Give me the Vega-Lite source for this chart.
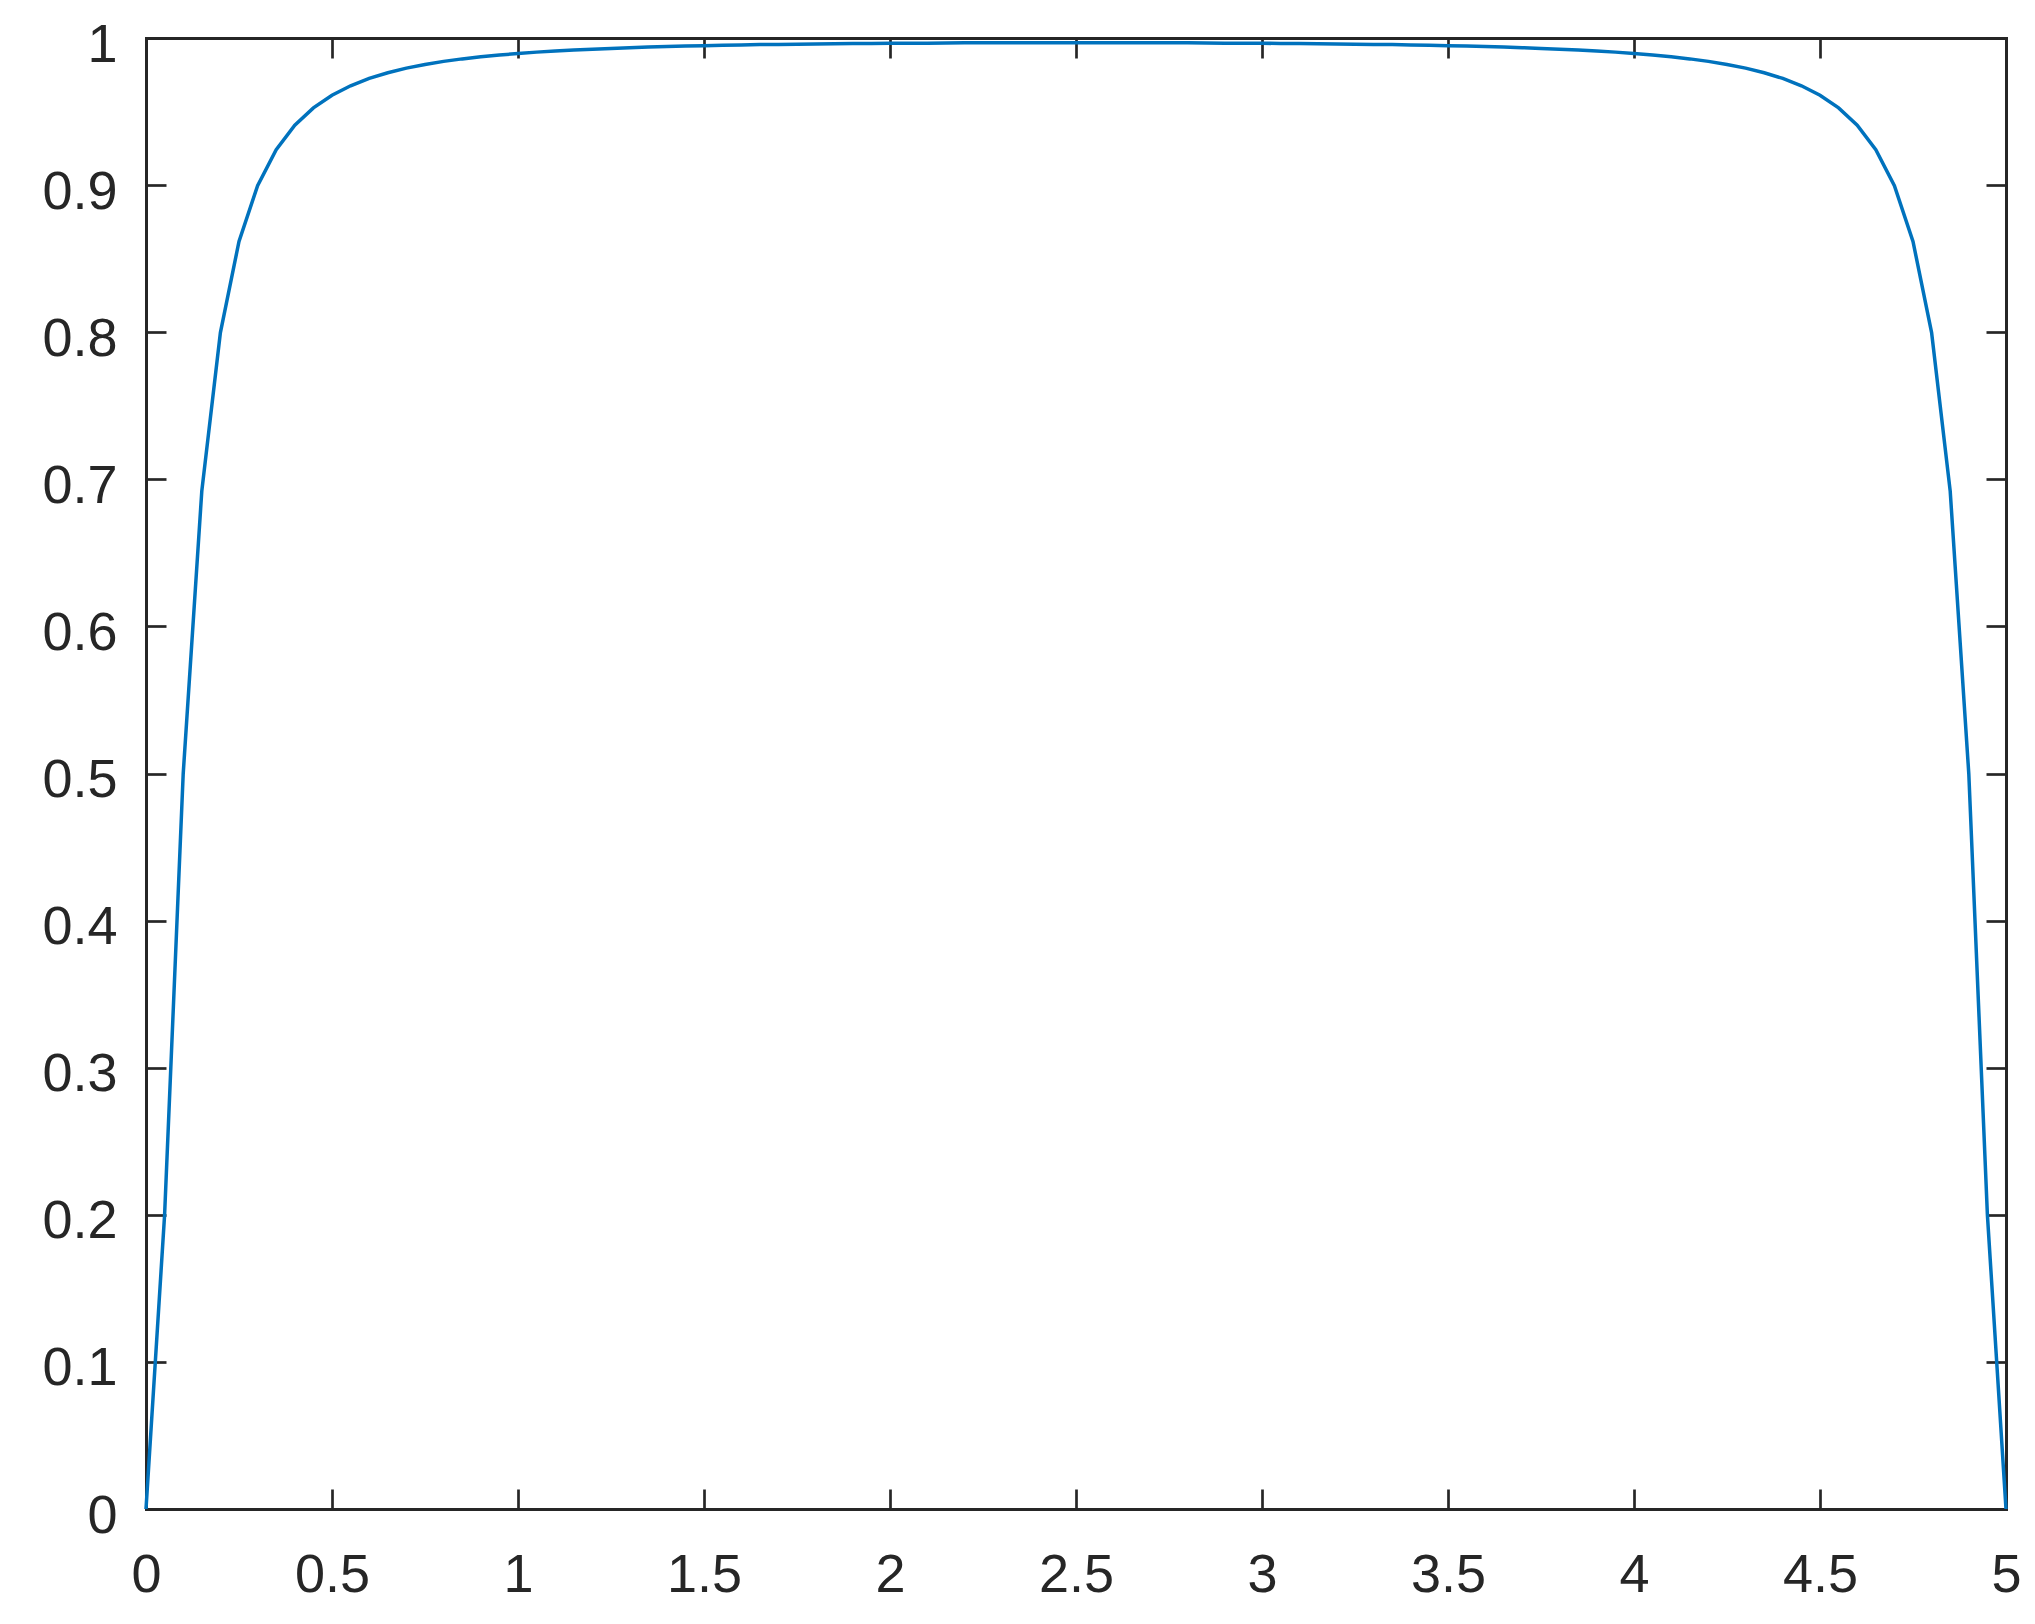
{
  "$schema": "https://vega.github.io/schema/vega-lite/v6.json",
  "width": 1860,
  "height": 1471,
  "autosize": {"type": "none"},
  "padding": {"left": 146, "top": 38, "right": 29, "bottom": 115},
  "background": "white",
  "config": {
    "view": {"stroke": null},
    "axis": {
      "grid": false,
      "title": null,
      "domainColor": "#262626",
      "domainWidth": 3,
      "domainCap": "square",
      "tickColor": "#262626",
      "tickWidth": 2.7,
      "tickSize": -20,
      "labelColor": "#262626",
      "labelFont": "Liberation Sans",
      "labelFontSize": 54,
      "labelFlush": false,
      "labelOverlap": false,
      "format": "~g"
    }
  },
  "data": {
    "values": [
      {"x": 0, "y": 0}, {"x": 0.05, "y": 0.1999}, {"x": 0.1, "y": 0.4998}, {"x": 0.15, "y": 0.692},
      {"x": 0.2, "y": 0.7997}, {"x": 0.25, "y": 0.8617}, {"x": 0.3, "y": 0.8996}, {"x": 0.35, "y": 0.9241},
      {"x": 0.4, "y": 0.9407}, {"x": 0.45, "y": 0.9525}, {"x": 0.5, "y": 0.9611}, {"x": 0.55, "y": 0.9675},
      {"x": 0.6, "y": 0.9725}, {"x": 0.65, "y": 0.9764}, {"x": 0.7, "y": 0.9795}, {"x": 0.75, "y": 0.982},
      {"x": 0.8, "y": 0.9841}, {"x": 0.85, "y": 0.9858}, {"x": 0.9, "y": 0.9872}, {"x": 0.95, "y": 0.9884},
      {"x": 1, "y": 0.9895}, {"x": 1.05, "y": 0.9904}, {"x": 1.1, "y": 0.9912}, {"x": 1.15, "y": 0.9918},
      {"x": 1.2, "y": 0.9924}, {"x": 1.25, "y": 0.9929}, {"x": 1.3, "y": 0.9934}, {"x": 1.35, "y": 0.9938},
      {"x": 1.4, "y": 0.9942}, {"x": 1.45, "y": 0.9945}, {"x": 1.5, "y": 0.9948}, {"x": 1.55, "y": 0.995},
      {"x": 1.6, "y": 0.9953}, {"x": 1.65, "y": 0.9955}, {"x": 1.7, "y": 0.9956}, {"x": 1.75, "y": 0.9958},
      {"x": 1.8, "y": 0.996}, {"x": 1.85, "y": 0.9961}, {"x": 1.9, "y": 0.9962}, {"x": 1.95, "y": 0.9963},
      {"x": 2, "y": 0.9964}, {"x": 2.05, "y": 0.9965}, {"x": 2.1, "y": 0.9965}, {"x": 2.15, "y": 0.9966},
      {"x": 2.2, "y": 0.9967}, {"x": 2.25, "y": 0.9967}, {"x": 2.3, "y": 0.9968}, {"x": 2.35, "y": 0.9968},
      {"x": 2.4, "y": 0.9968}, {"x": 2.45, "y": 0.9968}, {"x": 2.5, "y": 0.9968},
      {"x": 2.55, "y": 0.9968}, {"x": 2.6, "y": 0.9968}, {"x": 2.65, "y": 0.9968}, {"x": 2.7, "y": 0.9968},
      {"x": 2.75, "y": 0.9967}, {"x": 2.8, "y": 0.9967}, {"x": 2.85, "y": 0.9966}, {"x": 2.9, "y": 0.9965},
      {"x": 2.95, "y": 0.9965}, {"x": 3, "y": 0.9964}, {"x": 3.05, "y": 0.9963}, {"x": 3.1, "y": 0.9962},
      {"x": 3.15, "y": 0.9961}, {"x": 3.2, "y": 0.996}, {"x": 3.25, "y": 0.9958}, {"x": 3.3, "y": 0.9956},
      {"x": 3.35, "y": 0.9955}, {"x": 3.4, "y": 0.9953}, {"x": 3.45, "y": 0.995}, {"x": 3.5, "y": 0.9948},
      {"x": 3.55, "y": 0.9945}, {"x": 3.6, "y": 0.9942}, {"x": 3.65, "y": 0.9938}, {"x": 3.7, "y": 0.9934},
      {"x": 3.75, "y": 0.9929}, {"x": 3.8, "y": 0.9924}, {"x": 3.85, "y": 0.9918}, {"x": 3.9, "y": 0.9912},
      {"x": 3.95, "y": 0.9904}, {"x": 4, "y": 0.9895}, {"x": 4.05, "y": 0.9884}, {"x": 4.1, "y": 0.9872},
      {"x": 4.15, "y": 0.9858}, {"x": 4.2, "y": 0.9841}, {"x": 4.25, "y": 0.982}, {"x": 4.3, "y": 0.9795},
      {"x": 4.35, "y": 0.9764}, {"x": 4.4, "y": 0.9725}, {"x": 4.45, "y": 0.9675}, {"x": 4.5, "y": 0.9611},
      {"x": 4.55, "y": 0.9525}, {"x": 4.6, "y": 0.9407}, {"x": 4.65, "y": 0.9241}, {"x": 4.7, "y": 0.8996},
      {"x": 4.75, "y": 0.8617}, {"x": 4.8, "y": 0.7997}, {"x": 4.85, "y": 0.692}, {"x": 4.9, "y": 0.4998},
      {"x": 4.95, "y": 0.1999}, {"x": 5, "y": 0}
    ]
  },
  "layer": [
    {
      "mark": {"type": "line", "color": "#0072BD", "strokeWidth": 3.5},
      "encoding": {
        "x": {
          "field": "x", "type": "quantitative",
          "scale": {"domain": [0, 5], "nice": false, "zero": false},
          "axis": {"orient": "bottom", "values": [0, 0.5, 1, 1.5, 2, 2.5, 3, 3.5, 4, 4.5, 5], "labelPadding": 59}
        },
        "y": {
          "field": "y", "type": "quantitative",
          "scale": {"domain": [0, 1], "nice": false},
          "axis": {"orient": "left", "values": [0, 0.1, 0.2, 0.3, 0.4, 0.5, 0.6, 0.7, 0.8, 0.9, 1], "labelPadding": 49, "labelOffset": 7}
        }
      }
    },
    {
      "mark": {"type": "line", "opacity": 0},
      "encoding": {
        "x": {
          "field": "x", "type": "quantitative",
          "axis": {"orient": "top", "values": [0, 0.5, 1, 1.5, 2, 2.5, 3, 3.5, 4, 4.5, 5], "labels": false}
        },
        "y": {
          "field": "y", "type": "quantitative",
          "axis": {"orient": "right", "values": [0, 0.1, 0.2, 0.3, 0.4, 0.5, 0.6, 0.7, 0.8, 0.9, 1], "labels": false}
        }
      }
    }
  ],
  "resolve": {"axis": {"x": "independent", "y": "independent"}}
}
